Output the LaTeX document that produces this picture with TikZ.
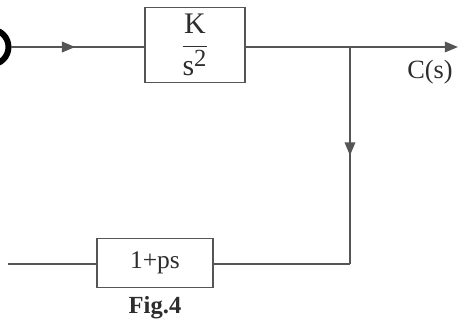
\documentclass[tikz,border=0pt]{standalone}
\usepackage{amsmath}
\usepackage{fontspec}
\setmainfont{Liberation Serif}
\usepackage{tikz}
\usetikzlibrary{positioning,arrows.meta,decorations.markings}
\definecolor{lineGray}{RGB}{85, 85, 85}
\definecolor{textGray}{RGB}{45, 45, 45}

\begin{document}
\begin{tikzpicture}[x=0.02cm, y=-0.02cm,
          block/.style={draw=lineGray, line width=1pt, minimum width=2cm, minimum height=1.5cm, align=center, text=textGray, font=\fontsize{14.5}{16}\selectfont},
          wire/.style={lineGray, line width=1pt},
          arrow/.style={wire, -{Triangle[length=7.5pt,width=6pt]}},
          midarrow/.style={wire, postaction={decorate}, decoration={markings, mark=at position #1 with {\arrow{Triangle[length=7.5pt,width=6pt]}}}},
          lbl/.style={text=textGray, font=\fontsize{15}{16}\selectfont}
        ]
          \useasboundingbox (0,0) rectangle (458,322);
          \begin{scope}
            \clip (0,0) rectangle (458,322);
            \node[draw=black, line width=3.4pt, circle, minimum size=0.7cm] (sum) at (-9,47) {};
          \end{scope}
          \node[block, font=\fontsize{17}{18}\selectfont] (gain) at (195,45) {$\dfrac{\text{K}}{\text{s}^{\text{\fontsize{14}{14}\selectfont 2}}}$};
          \node[block, minimum width=2.32cm, minimum height=0.98cm] (fb) at (155,263) {1+ps};
          \coordinate (out) at (458,47);
          \coordinate (tap) at (350,47);
          \coordinate (turn) at (350,264);
          \coordinate (fbend) at (8,264);
          \draw[midarrow=0.48] (sum.east) -- (gain.west |- sum.east);
          \draw[arrow] (gain.east |- out) -- (out);
          \draw[midarrow=0.5] (tap) -- (turn);
          \draw[wire] (turn) -- (fb.east |- turn);
          \draw[wire] (fb.west |- fbend) -- (fbend);
          \node[lbl] (cs) at (430,72) {C(s)};
          \node[lbl, font=\bfseries\fontsize{14}{16}\selectfont, below=0.03cm of fb] (cap) {Fig.4};
        \end{tikzpicture}
\end{document}
